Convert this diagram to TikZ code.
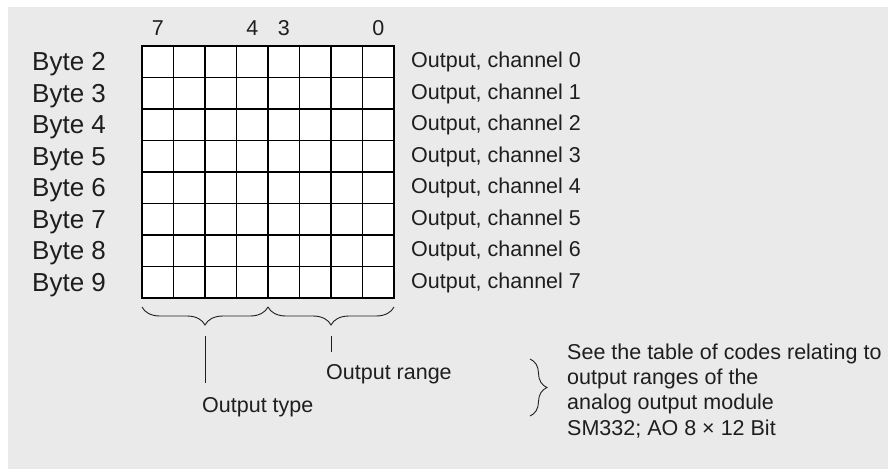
\documentclass[tikz,border=0pt]{standalone}
\usepackage{fontspec}
\setmainfont{Liberation Sans}
\usetikzlibrary{decorations.pathreplacing, positioning, calc}
\definecolor{bggray}{HTML}{EAEAEA}
\definecolor{ink}{HTML}{1E1E1E}

\begin{document}
\begin{tikzpicture}[x=1pt,y=-1pt,
    cell/.style={draw=black,fill=white,line width=1.7pt},
    txt/.style={inner sep=0pt,text=ink,font=\fontsize{21.5}{25.3}\selectfont},
    bytelabel/.style={anchor=base west,inner sep=0pt,text=ink,font=\fontsize{26}{30}\selectfont},
    chlabel/.style={txt,anchor=base west},
    bitlabel/.style={txt,anchor=base},
    curly/.style={draw=ink,line width=0.9pt,decorate,decoration={brace,amplitude=#1}},
    lead/.style={draw=ink,line width=1pt},
    ]
    % frame and background
    \useasboundingbox (0,0) rectangle (889,469);
    \fill[bggray] (8,7) rectangle (888,469);

    % the 8 x 8 bit field
    \begin{scope}[shift={(142,46)}]
        \foreach \r in {0,...,7}
            \foreach \c in {0,...,7}
                \draw[cell] (\c*31.5,\r*31.5) rectangle ++(31.5,31.5);
    \end{scope}
    \coordinate (gsw) at (142,298);
    \coordinate (gmid) at (268,298);
    \coordinate (gse) at (394,298);

    % bit numbers
    \node[bitlabel] (bit7) at (157.75,35) {7};
    \node[bitlabel] (bit4) at (252.25,35) {4};
    \node[bitlabel] (bit3) at (283.75,35) {3};
    \node[bitlabel] (bit0) at (378.25,35) {0};

    % bytes and channels
    \foreach \b [count=\i from 0] in {2,...,9} {
        \node[bytelabel] (byte\b) at (32,{70.75+31.5*\i}) {Byte \b};
        \node[chlabel] (ch\i) at (411,{67.75+31.5*\i}) {Output, channel \i};
    }

    % braces under the field
    \draw[curly=18,decoration={mirror}] ($(gsw)+(0,9)$) -- ($(gmid)+(0,9)$);
    \draw[curly=18,decoration={mirror}] ($(gmid)+(0,9)$) -- ($(gse)+(0,9)$);
    \coordinate (typetop) at (205,336);
    \coordinate (typebot) at (205,383);
    \coordinate (rangetop) at (331,336);
    \coordinate (rangebot) at (331,352);
    \draw[lead] (typetop) -- (typebot);
    \draw[lead] (rangetop) -- (rangebot);
    \node[txt,anchor=base west] (otype) at (202,412) {Output type};
    \node[txt,anchor=base west] (orange) at (326,379) {Output range};

    % note on the code table (base = last line)
    \coordinate (notetop) at (530,359);
    \coordinate (notebot) at (530,416);
    \draw[curly=17] (notetop) -- (notebot);
    \node[txt,anchor=base west,align=left] (note) at (567,435)
        {See the table of codes relating to\\output ranges of the\\analog output module\\SM332; AO 8 × 12 Bit};
\end{tikzpicture}
\end{document}
